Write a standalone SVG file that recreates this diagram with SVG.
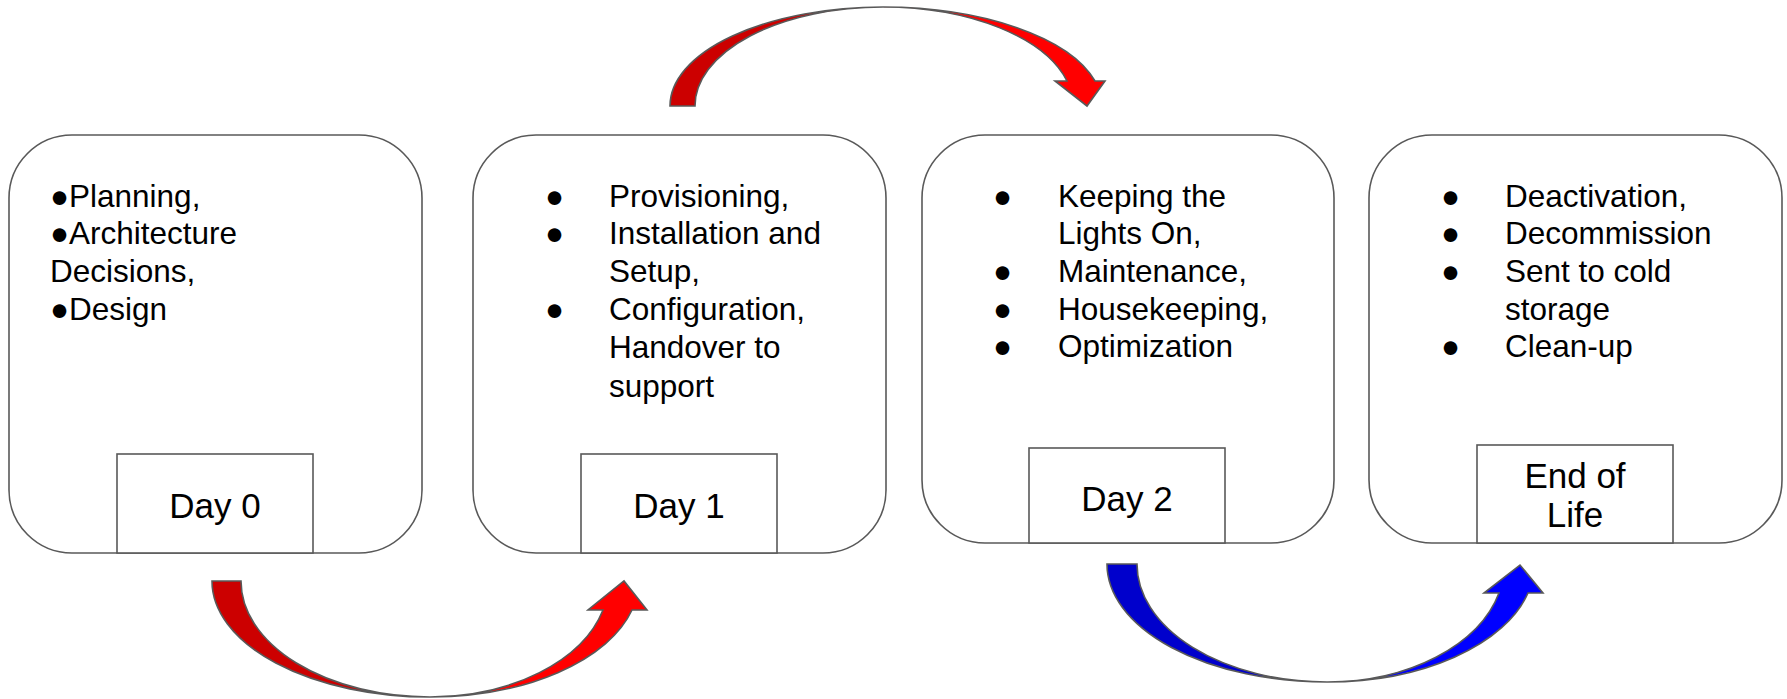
<svg xmlns="http://www.w3.org/2000/svg" width="1787" height="699" viewBox="0 0 1787 699">
<style>
.card{fill:#fff;stroke:#595959;stroke-width:1.6}
.tag{fill:#fff;stroke:#595959;stroke-width:1.6}
.t{font-family:"Liberation Sans",Arial,sans-serif;font-size:31.5px;fill:#000}
.d{font-family:"Liberation Sans",Arial,sans-serif;font-size:35px;fill:#000;text-anchor:middle}
.edge{stroke:#595959;stroke-width:1.6;stroke-linejoin:miter}
</style>
<rect width="1787" height="699" fill="#fff"/>
<g id="connectors">
  <g id="arrow-day0-day1">
    <path class="edge" fill="#cc0000" d="M212,581 L241,581 A189,116 0 0 0 430,697 A218,116 0 0 1 212,581 Z"/>
    <path class="edge" fill="#ff0000" d="M430,697 A179,116 0 0 0 603,610 L588,610 L624,581 L647,610 L632,610 A209,116 0 0 1 430,697 Z"/>
  </g>
  <g id="arrow-day1-day2">
    <path class="edge" fill="#cc0000" d="M670,106 A213,99 0 0 1 883,7 A188,99 0 0 0 695,106 Z"/>
    <path class="edge" fill="#ff0000" d="M883,7 A219,99 0 0 1 1095,81 L1105,81 L1087,106 L1055,81 L1067,81 A190,99 0 0 0 883,7 Z"/>
  </g>
  <g id="arrow-day2-eol">
    <path class="edge" fill="#0000cc" d="M1107,564 L1137,564 A190,118 0 0 0 1327,682 A220,118 0 0 1 1107,564 Z"/>
    <path class="edge" fill="#0000ff" d="M1327,682 A177,118 0 0 0 1499,593 L1484,593 L1520,565 L1543,593 L1528,593 A207,118 0 0 1 1327,682 Z"/>
  </g>
</g>
<g id="day0">
  <rect class="card" x="9" y="135" width="413" height="418" rx="63" ry="63"/>
  <text class="t" x="50" y="207">●Planning,</text>
  <text class="t" x="50" y="244">●Architecture</text>
  <text class="t" x="50" y="282">Decisions,</text>
  <text class="t" x="50" y="320">●Design</text>
  <rect class="tag" x="117" y="454" width="196" height="99"/>
  <text class="d" x="215" y="518">Day 0</text>
</g>
<g id="day1">
  <rect class="card" x="473" y="135" width="413" height="418" rx="63" ry="63"/>
  <text class="t" x="545" y="207">●</text>
  <text class="t" x="545" y="244">●</text>
  <text class="t" x="545" y="320">●</text>
  <text class="t" x="609" y="207">Provisioning,</text>
  <text class="t" x="609" y="244">Installation and</text>
  <text class="t" x="609" y="282">Setup,</text>
  <text class="t" x="609" y="320">Configuration,</text>
  <text class="t" x="609" y="358">Handover to</text>
  <text class="t" x="609" y="397">support</text>
  <rect class="tag" x="581" y="454" width="196" height="99"/>
  <text class="d" x="679" y="518">Day 1</text>
</g>
<g id="day2">
  <rect class="card" x="922" y="135" width="412" height="408" rx="63" ry="63"/>
  <text class="t" x="993" y="207">●</text>
  <text class="t" x="993" y="282">●</text>
  <text class="t" x="993" y="320">●</text>
  <text class="t" x="993" y="357">●</text>
  <text class="t" x="1058" y="207">Keeping the</text>
  <text class="t" x="1058" y="244">Lights On,</text>
  <text class="t" x="1058" y="282">Maintenance,</text>
  <text class="t" x="1058" y="320">Housekeeping,</text>
  <text class="t" x="1058" y="357">Optimization</text>
  <rect class="tag" x="1029" y="448" width="196" height="95"/>
  <text class="d" x="1127" y="511">Day 2</text>
</g>
<g id="eol">
  <rect class="card" x="1369" y="135" width="413" height="408" rx="63" ry="63"/>
  <text class="t" x="1441" y="207">●</text>
  <text class="t" x="1441" y="244">●</text>
  <text class="t" x="1441" y="282">●</text>
  <text class="t" x="1441" y="357">●</text>
  <text class="t" x="1505" y="207">Deactivation,</text>
  <text class="t" x="1505" y="244">Decommission</text>
  <text class="t" x="1505" y="282">Sent to cold</text>
  <text class="t" x="1505" y="320">storage</text>
  <text class="t" x="1505" y="357">Clean-up</text>
  <rect class="tag" x="1477" y="445" width="196" height="98"/>
  <text class="d" x="1575" y="488">End of</text>
  <text class="d" x="1575" y="527">Life</text>
</g>
</svg>
